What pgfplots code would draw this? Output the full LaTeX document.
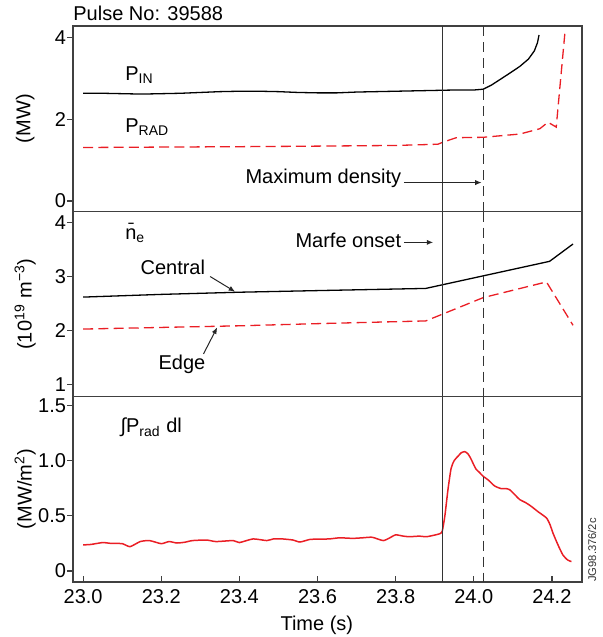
\documentclass[border=0pt]{standalone}
\usepackage{pgfplots}
\pgfplotsset{compat=1.18}
\usetikzlibrary{arrows.meta}
\usepackage{fontspec}
\setmainfont{Liberation Sans}
\definecolor{jetred}{RGB}{234,30,37}
\newcommand\lab{\fontsize{10}{12}\selectfont}

\tikzset{
  note/.style={font=\lab, inner sep=0pt, anchor=base west},
  pointer/.style={black!85, line width=0.5pt, -{Latex[length=3.2pt,width=2.6pt]}},
  marker/.style={black!80, line width=0.6pt},
  dmarker/.style={black!80, line width=0.6pt, dash pattern=on 5pt off 3pt},
}
\pgfplotsset{
  jetpanel/.style={
    scale only axis, width=254.5pt,
    xmin=22.974, xmax=24.277,
    anchor=north west, clip=false,
    axis line style={black!75, line width=0.6pt},
    tick style={black!75, line width=0.6pt},
    major tick length=2.8pt, tick align=inside,
    ytick pos=left, xtick pos=bottom,
    ytick style={xshift=-2.8pt},
    tick label style={font=\lab},
    /pgf/number format/assume math mode=true,
    label style={font=\lab},
    ylabel style={at={(axis description cs:-0.094,0.5)}, anchor=center},
  },
}

\begin{document}
\begin{tikzpicture}
\path[use as bounding box] (0,0) rectangle (301.5pt,-318.5pt);

% top: input and radiated power
\begin{axis}[jetpanel, at={(36.5pt,-13pt)}, height=92.75pt,
    ymin=-0.26, ymax=4.29, ytick={0,2,4}, xtick=\empty,
    ylabel={(MW)}]
\addplot[black, line width=0.65pt] coordinates {
(23.00,2.64)(23.05,2.64)(23.10,2.63)(23.15,2.62)(23.20,2.63)(23.25,2.64)(23.30,2.66)
(23.35,2.68)(23.40,2.69)(23.45,2.69)(23.50,2.68)(23.55,2.66)(23.60,2.65)(23.65,2.65)
(23.70,2.67)(23.75,2.68)(23.80,2.69)(23.85,2.70)(23.90,2.71)(23.95,2.72)(24.00,2.72)
(24.024,2.74)(24.045,2.84)(24.066,2.97)(24.09,3.12)(24.118,3.30)(24.14,3.48)
(24.155,3.68)(24.163,3.88)(24.167,4.07)
};
\addplot[jetred, line width=0.65pt, dash pattern=on 5pt off 2.6pt] coordinates {
(23.00,1.31)(23.20,1.32)(23.40,1.33)(23.555,1.34)(23.80,1.36)(23.908,1.39)(23.921,1.44)
(23.955,1.55)(24.024,1.56)(24.118,1.64)(24.169,1.77)(24.19,1.93)(24.211,1.81)(24.233,4.10)
};
\addplot[marker] coordinates {(23.92,-0.26)(23.92,4.29)};
\addplot[dmarker] coordinates {(24.024,4.29)(24.024,-0.26)};
\node[note] at (axis cs:23.107,2.96) {P\textsubscript{IN}};
\node[note] at (axis cs:23.107,1.68) {P\textsubscript{RAD}};
\node[note, anchor=base east] at (axis cs:23.815,0.418) {Maximum density};
\draw[pointer] (axis cs:23.821,0.45) -- (axis cs:24.02,0.45);
\end{axis}

% middle: line-averaged density
\begin{axis}[jetpanel, at={(36.5pt,-105.75pt)}, height=92.5pt,
    ymin=0.785, ymax=4.2, ytick={1,2,3,4}, xtick=\empty,
    ylabel={(10\textsuperscript{19} m\textsuperscript{−3})}]
\addplot[black, line width=0.65pt] coordinates {
(23.00,2.62)(23.20,2.67)(23.40,2.71)(23.60,2.74)(23.877,2.78)(24.194,3.28)(24.254,3.60)
};
\addplot[jetred, line width=0.65pt, dash pattern=on 5pt off 2.6pt] coordinates {
(23.00,2.03)(23.20,2.06)(23.40,2.09)(23.60,2.13)(23.877,2.18)(24.024,2.61)(24.186,2.90)(24.254,2.10)
};
\addplot[marker] coordinates {(23.92,0.785)(23.92,4.2)};
\addplot[dmarker] coordinates {(24.024,4.2)(24.024,0.785)};
\node[note] at (axis cs:23.107,3.69) {\=n\textsubscript{e}};
\node[note, anchor=base east] at (axis cs:23.815,3.54) {Marfe onset};
\draw[pointer] (axis cs:23.821,3.63) -- (axis cs:23.896,3.63);
\node[note] at (axis cs:23.146,3.04) {Central};
\draw[pointer] (axis cs:23.325,3.0) -- (axis cs:23.389,2.72);
\node[note] at (axis cs:23.192,1.28) {Edge};
\draw[pointer] (axis cs:23.308,1.57) -- (axis cs:23.343,2.06);
\end{axis}

% bottom: line-integrated radiation
\begin{axis}[jetpanel, at={(36.5pt,-198.25pt)}, height=92.75pt,
    ymin=-0.1, ymax=1.579,
    ytick={0,0.5,1.0,1.5}, yticklabels={0,0.5,1.0,1.5},
    xtick={23.0,23.2,23.4,23.6,23.8,24.0,24.2},
    xticklabels={23.0,23.2,23.4,23.6,23.8,24.0,24.2},
    ylabel={(MW/m\textsuperscript{2})},
    xlabel={Time (s)},
    xlabel style={at={(axis description cs:0.407,0)}, anchor=base west, inner sep=0pt, yshift=-24pt}]
\addplot[jetred, line width=0.75pt, smooth, tension=0.35] coordinates {
(23.00,0.236)(23.02,0.24)(23.05,0.257)(23.07,0.25)(23.10,0.247)(23.12,0.22)(23.146,0.266)
(23.17,0.275)(23.20,0.247)(23.22,0.266)(23.24,0.253)(23.26,0.26)(23.28,0.275)(23.316,0.28)
(23.34,0.266)(23.384,0.275)(23.40,0.257)(23.435,0.29)(23.47,0.275)(23.487,0.29)(23.51,0.29)
(23.537,0.28)(23.555,0.262)(23.58,0.285)(23.60,0.288)(23.63,0.29)(23.657,0.30)(23.69,0.295)
(23.715,0.30)(23.74,0.305)(23.768,0.275)(23.785,0.30)(23.80,0.327)(23.82,0.315)(23.836,0.31)
(23.86,0.315)(23.879,0.31)(23.90,0.325)(23.912,0.336)(23.919,0.357)(23.926,0.50)(23.934,0.74)
(23.942,0.93)(23.950,1.00)(23.960,1.04)(23.968,1.07)(23.977,1.08)(23.985,1.06)(23.992,1.02)
(24.000,0.96)(24.006,0.92)(24.015,0.89)(24.023,0.86)(24.038,0.82)(24.053,0.77)(24.07,0.745)
(24.083,0.745)(24.092,0.735)(24.105,0.69)(24.118,0.645)(24.132,0.62)(24.147,0.585)
(24.165,0.535)(24.186,0.48)(24.195,0.42)(24.203,0.34)(24.215,0.24)(24.228,0.145)(24.24,0.10)(24.25,0.085)
};
\addplot[marker] coordinates {(23.92,-0.1)(23.92,1.579)};
\addplot[dmarker] coordinates {(24.024,1.579)(24.024,-0.1)};
\node[note] at (axis cs:23.095,1.25) {∫P\textsubscript{rad} dl};
\end{axis}

\node[note] at (36.5pt,-10.35pt) {Pulse No: 39588};
\node[font=\fontsize{5.6}{7}\selectfont, rotate=90, inner sep=0pt, text=black!80] at (296pt,-275pt) {JG98.376/2c};
\end{tikzpicture}
\end{document}
